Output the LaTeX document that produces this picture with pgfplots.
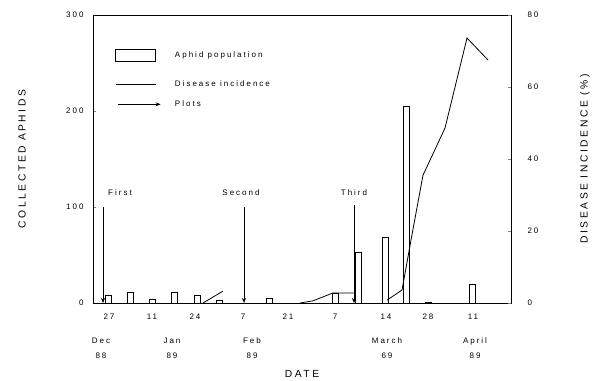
\documentclass[border=0pt]{standalone}
\usepackage{fontspec}
\setmainfont{Liberation Sans}[LetterSpace=25]
\usepackage{pgfplots}
\pgfplotsset{compat=1.18}
\usetikzlibrary{arrows.meta}
\newcommand{\sm}{\fontsize{8bp}{10bp}\selectfont}
\newcommand{\lb}{\fontsize{10.3bp}{12bp}\selectfont}
\begin{document}
\begin{tikzpicture}[font=\sm]
\path[use as bounding box] (0,0) rectangle (592bp,381bp);
\begin{axis}[
  at={(93bp,78bp)}, anchor=south west,
  scale only axis, width=418bp, height=288bp,
  xmin=93, xmax=511, ymin=0, ymax=300,
  axis line style={line width=0.9bp},
  /pgf/number format/assume math mode=true,
  ytick={0,100,200,300},
  xtick={109,152,195,243,288,335,386,428,473},
  xticklabels={27,11,24,7,21,7,14,28,11},
  xtick pos=bottom, ytick pos=left,
  tick align=inside, major tick length=3bp,
  major x tick style={draw=none},
  tick style={line width=0.8bp},
  every tick label/.append style={font=\sm},
  xticklabel style={yshift=-7bp},
  yticklabel style={xshift=-6bp},
  extra x ticks={101,172,252,387,475},
  extra x tick labels={{Dec\\88},{Jan\\89},{Feb\\89},{March\\69},{April\\89}},
  extra x tick style={major tick length=0pt, tick style={draw=none},
     tick label style={align=center, yshift=-24bp, font=\fontsize{8bp}{15bp}\selectfont}},
  xlabel={DATE},
  xlabel style={at={(axis description cs:0.5,0)}, anchor=center, yshift=-71bp, font=\lb},
  ylabel={COLLECTED\hspace{5bp}APHIDS},
  ylabel style={at={(axis description cs:0,0.5)}, anchor=center, yshift=71bp, font=\lb},
  legend style={at={(axis cs:115,265)}, anchor=north west, draw=none, fill=none,
     inner sep=0pt, row sep=9bp, column sep=12bp, cells={anchor=west}, font=\sm},
]
\addlegendimage{legend image code/.code={\draw[line width=0.8bp] (0bp,-6bp) rectangle (40bp,6bp); \path (0bp,-14bp);}}
\addlegendentry{Aphid population}
\addlegendimage{legend image code/.code={\draw[line width=0.8bp] (0bp,0bp) -- (40bp,0bp);}}
\addlegendentry{Disease incidence}
\addlegendimage{legend image code/.code={\draw[line width=0.8bp,-{Stealth[length=5bp,width=4bp]}] (2bp,0bp) -- (45bp,0bp);}}
\addlegendentry{Plots}

\addplot[ybar, bar width=6bp, draw=black, fill=white, line width=0.8bp, forget plot]
  coordinates {(108.5,8) (130,11.5) (152,4) (174.5,11.5) (197,8) (219,3) (269,5)
               (335,10) (358,53) (385,68) (406,205) (428,1) (472,19)};
\addplot[line width=0.8bp, -{Stealth[length=5bp,width=4bp]}, forget plot] coordinates {(103,100) (103,0)};
\addplot[line width=0.8bp, -{Stealth[length=5bp,width=4bp]}, forget plot] coordinates {(244,100) (244,0)};
\addplot[line width=0.8bp, -{Stealth[length=5bp,width=4bp]}, forget plot] coordinates {(354,102) (354,0)};
\node at (axis cs:120,115) {First};
\node at (axis cs:241,115) {Second};
\node at (axis cs:354,115) {Third};
\end{axis}
\begin{axis}[
  at={(93bp,78bp)}, anchor=south west,
  scale only axis, width=418bp, height=288bp,
  xmin=93, xmax=511, ymin=0, ymax=80,
  axis x line=none, axis y line*=right,
  axis line style={line width=0.9bp},
  /pgf/number format/assume math mode=true,
  ytick={0,20,40,60,80},
  tick align=inside, major tick length=3bp,
  tick style={line width=0.8bp},
  every tick label/.append style={font=\sm},
  yticklabel style={xshift=13bp},
  ylabel={DISEASE INCIDENCE (\%)},
  ylabel style={at={(axis description cs:1,0.5)}, anchor=center, yshift=-74bp, font=\lb},
]
\addplot[line width=0.8bp] coordinates {(203,0) (223,3.3)};
\addplot[line width=0.8bp] coordinates {(300,0) (313,0.6) (333,2.8) (355,2.8)};
\addplot[line width=0.8bp] coordinates {(387,0.8) (402,3.6) (412,19) (423,35.5) (445,48.6) (467,73.6) (488,67.5)};
\end{axis}
\end{tikzpicture}
\end{document}
